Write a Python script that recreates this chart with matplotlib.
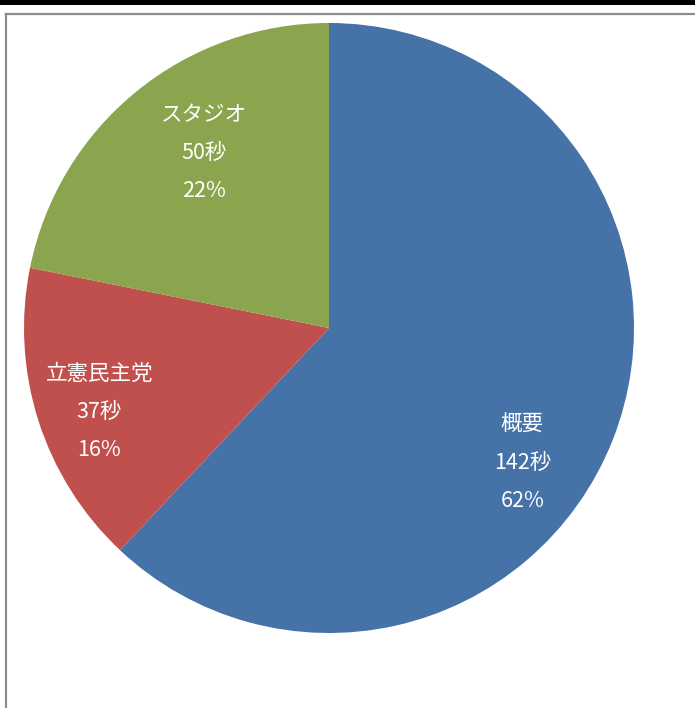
import matplotlib.pyplot as plt
import numpy as np
from matplotlib.patches import Rectangle

plt.rcParams['font.family'] = ['Noto Sans CJK JP', 'DejaVu Sans']

categories = ["概要", "立憲民主党", "スタジオ"]
seconds = [142, 37, 50]
percent_labels = ["62%", "16%", "22%"]
colors = ["#4572A7", "#C0504D", "#8AA54D"]

# label placement (radius factor, angle tweak in degrees) per slice
label_radius = [0.77, 0.80, 0.71]
label_shift = [-13, 2, -4]

fig = plt.figure(figsize=(6.95, 7.08), dpi=100)

# black strip on top and grey frame
fig.patches.append(Rectangle((0, 1 - 4.5 / 708), 1, 4.5 / 708, transform=fig.transFigure,
                             facecolor="black", edgecolor="none"))
fig.lines.append(plt.Line2D([6 / 695, 6 / 695], [0, 1 - 14 / 708], transform=fig.transFigure,
                            color="#8c8c8c", lw=1.6))
fig.lines.append(plt.Line2D([6 / 695, 1], [1 - 14 / 708, 1 - 14 / 708], transform=fig.transFigure,
                            color="#8c8c8c", lw=1.6))

ax = fig.add_axes([24 / 695, 75 / 708, 610 / 695, 610 / 708])
wedges, _ = ax.pie(seconds, colors=colors, startangle=90, counterclock=False,
                   wedgeprops=dict(linewidth=0))
ax.set_xlim(-1, 1)
ax.set_ylim(-1, 1)
ax.set_aspect("equal")
ax.axis("off")

for w, cat, sec, pct, r, s in zip(wedges, categories, seconds, percent_labels, label_radius, label_shift):
    mid = np.deg2rad((w.theta1 + w.theta2) / 2 + s)
    x, y = r * np.cos(mid), r * np.sin(mid)
    ax.text(x, y - 0.005, f"{cat}\n{sec}秒\n{pct}", ha="center", va="center", color="white",
            fontsize=15.5, linespacing=1.95)

fig.savefig("out.png", dpi=100)
